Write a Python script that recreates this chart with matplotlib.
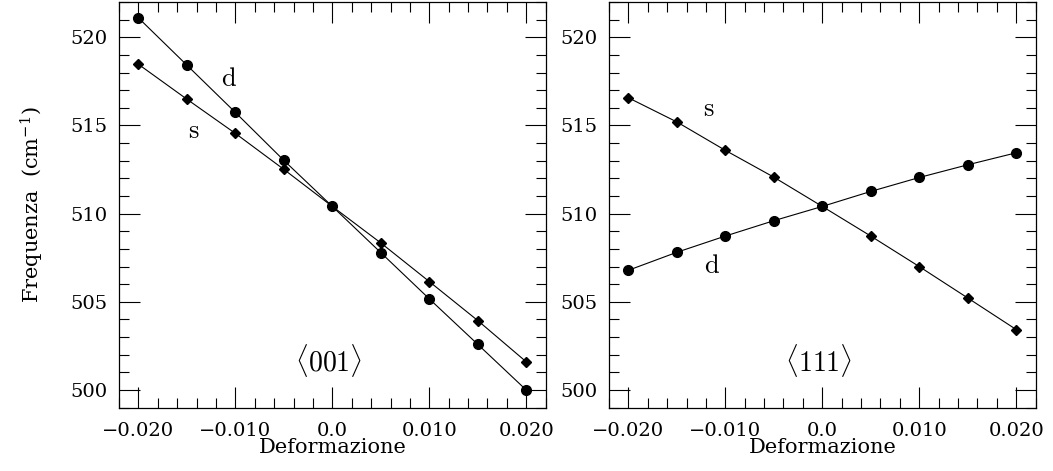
import matplotlib
matplotlib.use("Agg")
import matplotlib.pyplot as plt
from matplotlib.ticker import MultipleLocator, FixedLocator

plt.rcParams["font.family"] = ["DejaVu Serif"]
plt.rcParams["mathtext.fontset"] = "dejavuserif"

# deformazione (strain)
strain = [-0.020, -0.015, -0.010, -0.005, 0.0, 0.005, 0.010, 0.015, 0.020]

# <001>
d_001 = [521.1, 518.42, 515.74, 513.02, 510.41, 507.79, 505.17, 502.59, 500.0]
s_001 = [518.47, 516.49, 514.55, 512.51, 510.41, 508.34, 506.15, 503.94, 501.60]

# <111>
d_111 = [506.79, 507.81, 508.73, 509.60, 510.41, 511.26, 512.05, 512.77, 513.45]
s_111 = [516.57, 515.2, 513.59, 512.07, 510.41, 508.73, 507.0, 505.22, 503.43]

x_ticks = [-0.020, -0.010, 0.0, 0.010, 0.020]
x_ticklabels = ["\u22120.020", "\u22120.010", "0.0", "0.010", "0.020"]

panels = [
    {"d": d_001, "s": s_001, "title": "001",
     "d_pos": (-0.0107, 517.6), "s_pos": (-0.0143, 514.66), "t_pos": (-0.0004, 501.7)},
    {"d": d_111, "s": s_111, "title": "111",
     "d_pos": (-0.0114, 507.0), "s_pos": (-0.0118, 515.9), "t_pos": (-0.0004, 501.7)},
]

fig = plt.figure(figsize=(10.53, 4.71), dpi=100)
lefts = [0.1130, 0.5783]

for i, p in enumerate(panels):
    ax = fig.add_axes([lefts[i], 0.1344, 0.4052, 0.8614])
    ax.plot(strain, p["d"], color="black", lw=0.8, marker="o", ms=7)
    ax.plot(strain, p["s"], color="black", lw=0.8, marker="D", ms=5)

    ax.set_xlim(-0.022, 0.022)
    ax.set_ylim(499, 522)
    ax.xaxis.set_major_locator(FixedLocator(x_ticks))
    ax.set_xticklabels(x_ticklabels)
    ax.xaxis.set_minor_locator(MultipleLocator(0.002))
    ax.yaxis.set_major_locator(MultipleLocator(5))
    ax.yaxis.set_minor_locator(MultipleLocator(1))
    ax.tick_params(which="both", direction="in", top=True, right=True,
                   labelsize=14, width=0.8, colors="black")
    ax.tick_params(which="major", length=15)
    ax.tick_params(axis="x", which="major", pad=10)
    ax.tick_params(axis="y", which="major", pad=8)
    ax.tick_params(which="minor", length=7.5)
    for sp in ax.spines.values():
        sp.set_linewidth(0.9)

    ax.set_xlabel("Deformazione", fontsize=15, labelpad=-1)
    if i == 0:
        ax.set_ylabel("Frequenza  (cm$^{-1}$)", fontsize=15, labelpad=18)

    ax.text(*p["d_pos"], "d", fontsize=19, ha="center", va="center", family="cmr10")
    ax.text(*p["s_pos"], "s", fontsize=19, ha="center", va="center", family="cmr10")
    ax.text(*p["t_pos"], r"$\langle\mathrm{" + p["title"] + r"}\rangle$",
            fontsize=20, ha="center", va="center", math_fontfamily="cm")

fig.savefig("out.png", dpi=100)
